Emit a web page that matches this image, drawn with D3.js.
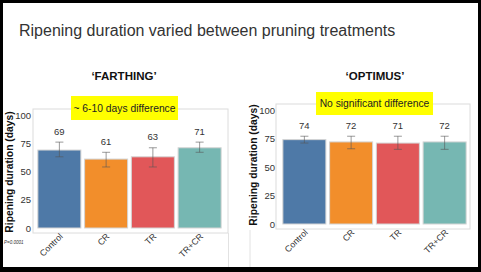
<!DOCTYPE html>
<html>
<head>
<meta charset="utf-8">
<script src="https://cdn.jsdelivr.net/npm/d3@7"></script>
<style>
  body { margin: 0; background: #fff; }
  svg { display: block; font-family: 'Liberation Sans', Arial, sans-serif; }
  .tick text { fill: #333; }
</style>
</head>
<body>
<svg></svg>
<script>
// chart data
const categories = ['Control', 'CR', 'TR', 'TR+CR']
const colors = ['#4e79a7', '#f28e2b', '#e15759', '#76b7b2']
const yTicks = [0, 25, 50, 75, 100]

const farthingMeans = [69, 61, 63, 71]
const farthingLow = [63, 54, 54, 67]
const farthingHigh = [76, 67, 71, 76]

const optimusMeans = [74, 72, 71, 72]
const optimusLow = [71, 66, 65.5, 65.5]
const optimusHigh = [77, 77, 77, 77]

const w = 481
const h = 272

const svg = d3.select('svg')
  .attr('width', w)
  .attr('height', h)

// slide title
svg.append('text')
  .attr('x', 19)
  .attr('y', 35.5)
  .attr('font-size', 16)
  .attr('fill', '#333')
  .text('Ripening duration varied between pruning treatments')

const drawPanel = (opts) => {
  const g = svg.append('g')

  // plot frame
  g.append('rect')
    .attr('x', opts.box[0])
    .attr('y', opts.box[1])
    .attr('width', opts.box[2] - opts.box[0])
    .attr('height', opts.box[3] - opts.box[1])
    .attr('fill', 'none')
    .attr('stroke', '#dcdcdc')
    .attr('stroke-width', 1)

  const x = d3.scaleBand()
    .domain(categories)
    .range(opts.xRange)
    .paddingInner(0.08)
    .paddingOuter(0.04)

  const y = d3.scaleLinear()
    .domain([0, 100])
    .range(opts.yRange)

  // y axis (labels only)
  const yAxis = d3.axisLeft(y)
    .tickValues(yTicks)
    .tickSize(0)
    .tickPadding(0)
  const ya = g.append('g')
    .attr('transform', `translate(${opts.yLabelX}, 0)`)
    .call(yAxis)
  ya.select('.domain').remove()
  ya.selectAll('text')
    .attr('font-size', 9.5)
    .attr('font-family', 'Liberation Sans, Arial, sans-serif')

  // y axis title
  g.append('text')
    .attr('text-anchor', 'middle')
    .attr('transform', `translate(${opts.yTitleX}, ${opts.yTitleY})rotate(-90)`)
    .attr('font-size', 10.3)
    .attr('font-weight', 'bold')
    .attr('fill', '#111')
    .text('Ripening duration (days)')

  // bars
  g.selectAll('.bar')
    .data(categories)
    .enter()
    .append('rect')
    .attr('class', 'bar')
    .attr('x', (d) => x(d))
    .attr('width', x.bandwidth())
    .attr('y', (d, i) => y(opts.means[i]))
    .attr('height', (d, i) => y(0) - y(opts.means[i]))
    .attr('fill', (d, i) => colors[i])
    .attr('stroke', '#d4d4d4')
    .attr('stroke-width', 1)

  // error bars
  const cap = 4
  const eb = g.selectAll('.err')
    .data(categories)
    .enter()
    .append('g')
    .attr('class', 'err')
    .attr('stroke', '#555')
    .attr('stroke-width', 0.8)
    .attr('stroke-opacity', 0.75)
  eb.append('line')
    .attr('x1', (d) => x(d) + x.bandwidth() / 2)
    .attr('x2', (d) => x(d) + x.bandwidth() / 2)
    .attr('y1', (d, i) => y(opts.low[i]))
    .attr('y2', (d, i) => y(opts.high[i]))
  eb.append('line')
    .attr('x1', (d) => x(d) + x.bandwidth() / 2 - cap)
    .attr('x2', (d) => x(d) + x.bandwidth() / 2 + cap)
    .attr('y1', (d, i) => y(opts.high[i]))
    .attr('y2', (d, i) => y(opts.high[i]))
  eb.append('line')
    .attr('x1', (d) => x(d) + x.bandwidth() / 2 - cap)
    .attr('x2', (d) => x(d) + x.bandwidth() / 2 + cap)
    .attr('y1', (d, i) => y(opts.low[i]))
    .attr('y2', (d, i) => y(opts.low[i]))

  // value labels
  g.selectAll('.val')
    .data(categories)
    .enter()
    .append('text')
    .attr('class', 'val')
    .attr('text-anchor', 'middle')
    .attr('x', (d) => x(d) + x.bandwidth() / 2)
    .attr('y', (d, i) => y(opts.high[i]) - 7.5)
    .attr('font-size', 9.5)
    .attr('fill', '#333')
    .text((d, i) => opts.means[i])

  // x labels
  g.selectAll('.xl')
    .data(categories)
    .enter()
    .append('text')
    .attr('class', 'xl')
    .attr('text-anchor', 'end')
    .attr('transform', (d) => `translate(${x(d) + x.bandwidth() / 2 + 4}, ${opts.xLabelY})rotate(-45)`)
    .attr('font-size', 8.8)
    .attr('fill', '#333')
    .text((d) => d)

  // panel title
  g.append('text')
    .attr('text-anchor', 'middle')
    .attr('x', opts.titleX)
    .attr('y', 80)
    .attr('font-size', 11.5)
    .attr('font-weight', 'bold')
    .attr('fill', '#111')
    .text(opts.title)

  // highlight note
  g.append('rect')
    .attr('x', opts.note[0])
    .attr('y', opts.note[1])
    .attr('width', opts.note[2] - opts.note[0])
    .attr('height', opts.note[3] - opts.note[1])
    .attr('fill', '#ffff00')
  g.append('text')
    .attr('text-anchor', 'middle')
    .attr('x', (opts.note[0] + opts.note[2]) / 2)
    .attr('y', (opts.note[1] + opts.note[3]) / 2 + 3.6)
    .attr('font-size', 10.3)
    .attr('fill', '#222')
    .text(opts.noteText)
}

drawPanel({
  title: '\u2018FARTHING\u2019',
  titleX: 124,
  box: [33, 109, 228, 233],
  xRange: [36, 223],
  yRange: [228, 115],
  yLabelX: 31,
  yTitleX: 13,
  yTitleY: 172,
  xLabelY: 237,
  means: farthingMeans,
  low: farthingLow,
  high: farthingHigh,
  note: [71, 96, 178, 120],
  noteText: '~ 6-10 days difference'
})

drawPanel({
  title: '\u2018OPTIMUS\u2019',
  titleX: 375,
  box: [276, 104, 470, 229],
  xRange: [281, 468],
  yRange: [224, 110],
  yLabelX: 275,
  yTitleX: 257,
  yTitleY: 165,
  xLabelY: 233,
  means: optimusMeans,
  low: optimusLow,
  high: optimusHigh,
  note: [316, 92, 433, 115],
  noteText: 'No significant difference'
})

// panel image edges
svg.append('line')
  .attr('x1', 228.5).attr('x2', 228.5)
  .attr('y1', 233).attr('y2', 268)
  .attr('stroke', '#e2e2e2')
svg.append('line')
  .attr('x1', 250).attr('x2', 250)
  .attr('y1', 230).attr('y2', 268)
  .attr('stroke', '#e2e2e2')

// p-value note
svg.append('text')
  .attr('x', 4)
  .attr('y', 244)
  .attr('font-size', 4.5)
  .attr('font-style', 'italic')
  .attr('fill', '#333')
  .text('P=0.0001')

// slide frame
svg.append('rect').attr('x', 0).attr('y', 0).attr('width', w).attr('height', 3).attr('fill', '#000')
svg.append('rect').attr('x', 0).attr('y', 0).attr('width', 3).attr('height', h).attr('fill', '#000')
svg.append('rect').attr('x', w - 3).attr('y', 0).attr('width', 3).attr('height', h).attr('fill', '#000')
svg.append('rect').attr('x', 0).attr('y', h - 5).attr('width', w).attr('height', 5).attr('fill', '#000')
</script>
</body>
</html>
